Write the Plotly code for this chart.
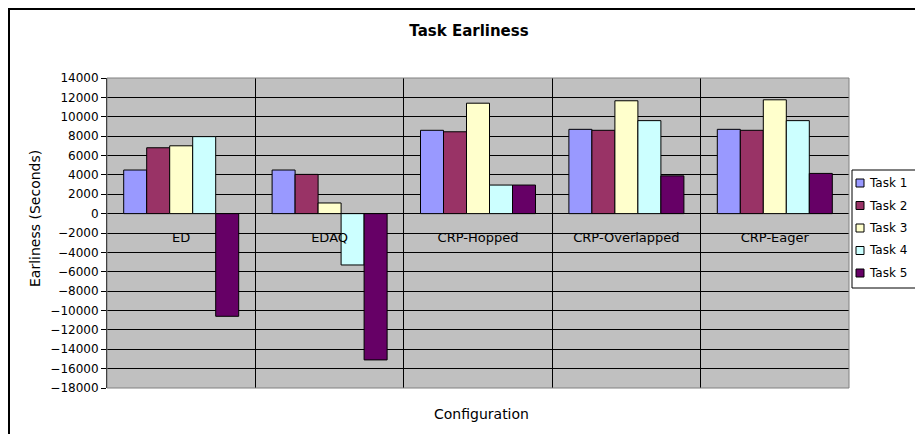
import plotly.graph_objects as go

configs = ["ED", "EDAQ", "CRP-Hopped", "CRP-Overlapped", "CRP-Eager"]
task_names = ["Task 1", "Task 2", "Task 3", "Task 4", "Task 5"]
task1 = [4500, 4500, 8600, 8700, 8700]
task2 = [6800, 4050, 8450, 8600, 8600]
task3 = [7000, 1100, 11400, 11650, 11750]
task4 = [7950, -5300, 2950, 9600, 9600]
task5 = [-10600, -15100, 2950, 3900, 4150]
task_colors = ["#9999FF", "#993366", "#FFFFCC", "#CCFFFF", "#660066"]

y_min, y_max, y_step = -18000, 14000, 2000

FONT = "DejaVu Sans"
W, H = 915, 434
L, R, T, B = 107, 66, 78, 46
pw, ph = W - L - R, H - T - B


def px_x(p):
    # pixel column -> paper x
    return (p - L) / pw


def px_y(p):
    # pixel row -> paper y
    return (H - B - p) / ph


fig = go.Figure()
for i, (name, vals) in enumerate(zip(task_names, [task1, task2, task3, task4, task5])):
    fig.add_trace(go.Bar(
        x=configs, y=vals, name=name, showlegend=False,
        marker=dict(color=task_colors[i], line=dict(color="black", width=1)),
    ))

shapes = [
    # grey plot-area frame
    dict(type="rect", xref="paper", yref="paper", x0=0, x1=1, y0=0, y1=1,
         line=dict(color="#808080", width=1), layer="above"),
    # black chart-area frame, running past the right and bottom edges
    dict(type="rect", xref="paper", yref="paper",
         x0=px_x(9), x1=px_x(940), y0=px_y(460), y1=px_y(9),
         line=dict(color="black", width=2)),
    # legend box (cut off by the right edge like the original)
    dict(type="rect", xref="paper", yref="paper",
         x0=px_x(852), x1=px_x(930), y0=px_y(288), y1=px_y(170),
         line=dict(color="black", width=1), fillcolor="white"),
]
annotations = [
    dict(text="Configuration", xref="paper", yref="paper",
         x=px_x(481), y=px_y(414), xanchor="center", yanchor="middle",
         showarrow=False, font=dict(size=14)),
    dict(text="Earliness (Seconds)", xref="paper", yref="paper",
         x=px_x(35), y=px_y(219), xanchor="center", yanchor="middle",
         textangle=-90, showarrow=False, font=dict(size=14)),
]

# legend entries: small outlined swatch + label
for i, name in enumerate(task_names):
    cy = 183 + i * 22.5
    shapes.append(dict(type="rect", xref="paper", yref="paper",
                       x0=px_x(856), x1=px_x(864), y0=px_y(cy + 4), y1=px_y(cy - 4),
                       line=dict(color="black", width=1), fillcolor=task_colors[i]))
    annotations.append(dict(text=name, xref="paper", yref="paper",
                            x=px_x(867), y=px_y(cy), xanchor="left", yanchor="middle",
                            showarrow=False, font=dict(size=12)))

fig.update_layout(
    width=W, height=H,
    margin=dict(l=L, r=R, t=T, b=B, autoexpand=False),
    paper_bgcolor="white",
    plot_bgcolor="#C0C0C0",
    barmode="group",
    bargap=0.225,
    bargroupgap=0,
    font=dict(family=FONT, size=12, color="black"),
    title=dict(text="<b>Task Earliness</b>", x=469 / W, xanchor="center",
               y=1 - 31 / H, yanchor="middle", font=dict(size=15)),
    xaxis=dict(
        anchor="free", position=(0 - y_min) / (y_max - y_min),
        tickson="boundaries", showgrid=True, gridcolor="black", gridwidth=1,
        ticks="", showline=False, ticklabelstandoff=14,
        tickfont=dict(size=13),
    ),
    yaxis=dict(
        range=[y_min, y_max], dtick=y_step, tick0=0, tickformat="d",
        showgrid=True, gridcolor="black", gridwidth=1,
        zeroline=True, zerolinecolor="black", zerolinewidth=1,
        showline=True, linecolor="black", linewidth=1,
        ticks="outside", ticklen=5, tickcolor="black",
        tickfont=dict(size=12),
    ),
    shapes=shapes,
    annotations=annotations,
)

fig.write_html("out.html", config={"displayModeBar": False},
               post_script="document.body.style.margin='0';")
